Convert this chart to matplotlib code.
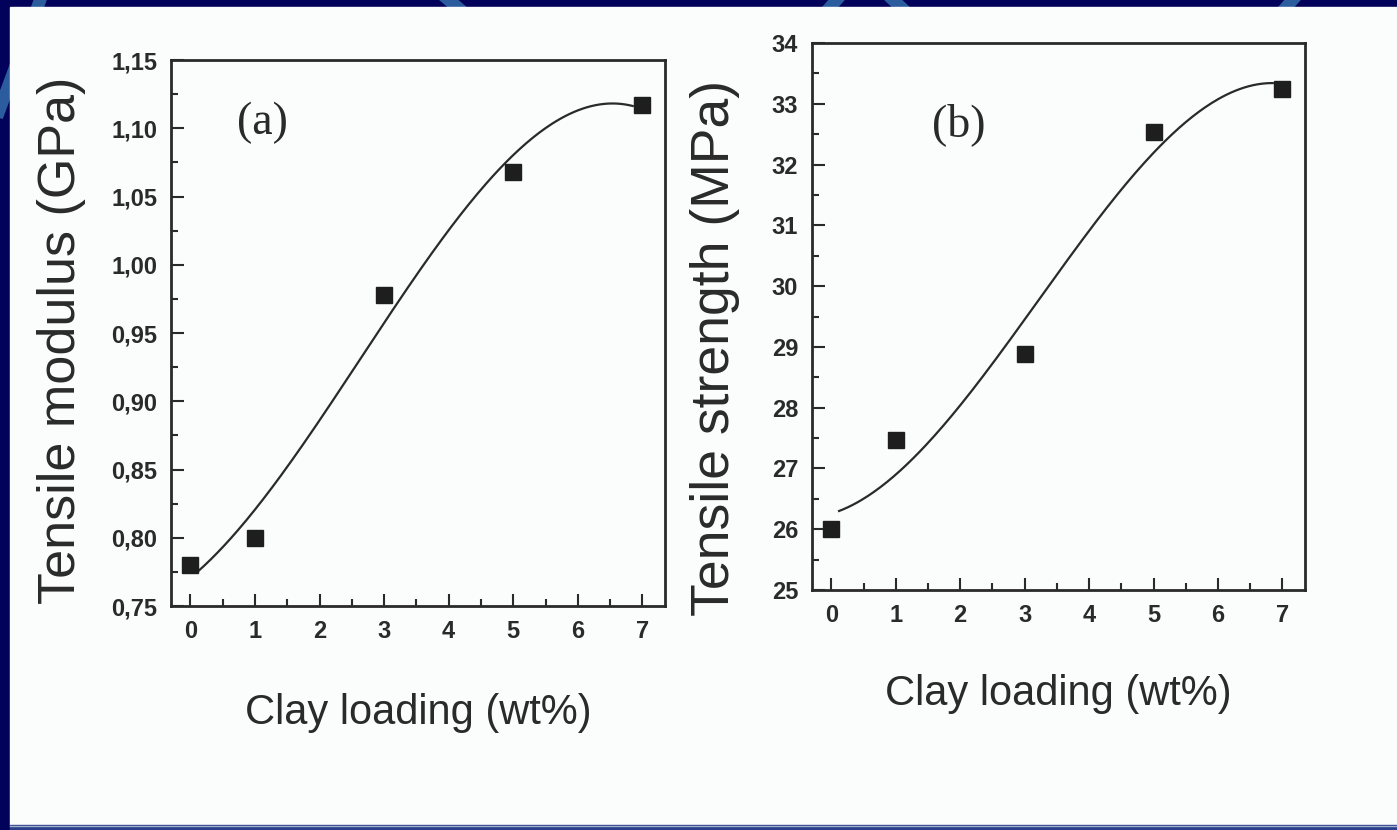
import numpy as np
import matplotlib
matplotlib.use("Agg")
import matplotlib.pyplot as plt
from matplotlib import font_manager
from matplotlib.lines import Line2D
from matplotlib.patches import Rectangle
from matplotlib.ticker import MultipleLocator

# data
clay = [0, 1, 3, 5, 7]
modulus = [0.78, 0.80, 0.978, 1.068, 1.117]      # GPa
strength = [26.0, 27.46, 28.89, 32.53, 33.25]    # MPa

xticks = [0, 1, 2, 3, 4, 5, 6, 7]
xlabel = "Clay loading (wt%)"
ylabel_a = "Tensile modulus (GPa)"
ylabel_b = "Tensile strength (MPa)"

W, H = 1397, 830
names = {f.name for f in font_manager.fontManager.ttflist}
narrow = "Liberation Sans Narrow" in names
cond = "Liberation Sans Narrow" if narrow else "Liberation Sans"
tick_size = 20 if narrow else 17
xl_size = 36 if narrow else 30

fig = plt.figure(figsize=(W / 100, H / 100), dpi=100, facecolor="#02025a")


def px(x, y):
    return x / W, 1 - y / H


# template decoration stripes behind the white page
stripe = "#2b5d9e"
for (x0, y0), (x1, y1) in [((42, -5), (-8, 130)), ((444, -4), (463, 12)),
                           ((840, -4), (826, 12)), ((889, -4), (906, 12)),
                           ((1296, -4), (1282, 12))]:
    a, b = px(x0, y0)
    c, d = px(x1, y1)
    fig.add_artist(Line2D([a, c], [b, d], color=stripe, lw=9, zorder=-3))

fig.add_artist(Rectangle(px(10, 825), (W - 10) / W, 818 / H,
                         color="#fbfcfc", zorder=-2))
fig.add_artist(Rectangle(px(10, 830), (W - 10) / W, 5 / H,
                         color="#2a3f88", zorder=-2))
fig.add_artist(Line2D([10 / W, 1], [1 - 825.5 / H] * 2, color="#9fb0cf",
                      lw=1, zorder=-1))

ink = "#2a2a2a"


def panel(rect, y, ylo, yhi, ymaj, ymin, fmt, ylab, ysize, ylab_xy,
          xpad, tag, tagpos):
    ax = fig.add_axes(rect)
    ax.set_facecolor("none")
    xs = np.array(clay, dtype=float)
    ys = np.array(y, dtype=float)
    coef = np.polyfit(xs, ys, 3)
    xx = np.linspace(0.12, 6.85, 200)
    ax.plot(xx, np.polyval(coef, xx), color=ink, lw=1.6, zorder=2)
    ax.plot(xs, ys, "s", color="#1e1e1e", ms=11.5, zorder=3)
    ax.set_xlim(-0.3, 7.35)
    ax.set_ylim(ylo, yhi)
    ax.set_xticks(xticks)
    ax.xaxis.set_minor_locator(MultipleLocator(0.5))
    ax.yaxis.set_major_locator(MultipleLocator(ymaj))
    ax.yaxis.set_minor_locator(MultipleLocator(ymin))
    ax.yaxis.set_major_formatter(
        plt.FuncFormatter(lambda v, p: (fmt % v).replace(".", ",")))
    ax.tick_params(which="both", direction="in", top=False, right=False,
                   color=ink, width=1.5)
    ax.tick_params(which="major", length=9, pad=10, labelsize=tick_size,
                   labelcolor=ink)
    ax.tick_params(which="minor", length=5)
    for lab in ax.get_xticklabels() + ax.get_yticklabels():
        lab.set_family([cond, "DejaVu Sans"])
        lab.set_fontweight("bold")
    for s in ax.spines.values():
        s.set_color(ink)
        s.set_linewidth(2)
    ax.set_xlabel(xlabel, fontsize=xl_size, family=[cond, "DejaVu Sans"],
                  color=ink, labelpad=xpad)
    ax.set_ylabel(ylab, fontsize=ysize, family="Liberation Sans", color=ink)
    ax.yaxis.set_label_coords(*ylab_xy)
    ax.text(tagpos[0], tagpos[1], tag, transform=ax.transAxes,
            family="Liberation Serif", fontsize=33, color=ink,
            ha="center", va="center")
    return ax


l, b = px(171, 606)
panel([l, b, 494 / W, 546 / H], modulus, 0.75, 1.15, 0.05, 0.025, "%.2f",
      ylabel_a, 37.5, (-0.172, 0.487), 36, "(a)", (0.186, 0.885))

l, b = px(812, 590)
panel([l, b, 493 / W, 547 / H], strength, 25, 34, 1, 0.5, "%.0f",
      ylabel_b, 38.5, (-0.146, 0.442), 34, "(b)", (0.298, 0.85))

fig.savefig("out.png", dpi=100, facecolor=fig.get_facecolor())
